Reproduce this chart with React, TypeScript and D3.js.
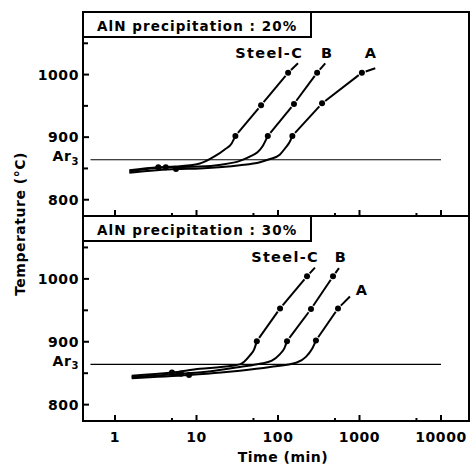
import React from "react";
import * as d3 from "d3";

type Pt = [number, number];

// x ticks (time, min) and y ticks (temperature, °C)
const xMajor = [1, 10, 100, 1000, 10000];
const xMinor = [5, 50, 500, 5000];
const yMajor = [800, 900, 1000];
const yMinor = [850, 950, 1050];
const ar3 = 864;
const steelNames = ["Steel-C", "B", "A"];

// AlN precipitation : 20%
const c20Solid: Pt[] = [[1.5, 847], [3.4, 852], [5.5, 853], [11, 858], [17, 870], [22, 880], [27, 890], [30, 902]];
const b20Solid: Pt[] = [[1.5, 845], [4.2, 852], [11, 853], [20, 856], [34, 862], [45, 869], [56, 876], [65, 886], [75, 902]];
const a20Solid: Pt[] = [[1.5, 843], [5.6, 849], [11, 850], [34, 855], [60, 860], [80, 865], [105, 872], [122, 882], [140, 893], [150, 902]];
const c20Dots: Pt[] = [[30, 902], [62, 951], [133, 1003]];
const b20Dots: Pt[] = [[75, 902], [157, 953], [302, 1003]];
const a20Dots: Pt[] = [[150, 902], [347, 954], [1070, 1003]];
const tails20: Pt[] = [[176, 1018], [380, 1018], [1560, 1010]];
const start20: Pt[] = [[3.4, 852], [4.2, 852], [5.6, 849]];
const labels20: Pt[] = [[78, 1035], [400, 1035], [1385, 1035]];

// AlN precipitation : 30%
const c30Solid: Pt[] = [[1.6, 846], [5.0, 851], [11, 857], [20, 860], [34, 864], [45, 878], [51, 888], [55, 901]];
const b30Solid: Pt[] = [[1.6, 844], [6.45, 849], [15, 853], [34, 860], [60, 865], [84, 870], [105, 880], [120, 890], [129, 901]];
const a30Solid: Pt[] = [[1.6, 842], [8.1, 847], [20, 851], [34, 854], [80, 860], [170, 867], [220, 876], [260, 888], [292, 902]];
const c30Dots: Pt[] = [[55, 901], [106, 953], [227, 1004]];
const b30Dots: Pt[] = [[129, 901], [254, 952], [473, 1004]];
const a30Dots: Pt[] = [[292, 902], [545, 953]];
const tails30: Pt[] = [[284, 1018], [560, 1017], [764, 972]];
const start30: Pt[] = [[5.0, 851], [6.45, 849], [8.1, 847]];
const labels30: Pt[] = [[122, 1035], [593, 1035], [1070, 982]];

const W = 470;
const H = 468;
const left = 83;
const right = 469;
const font = "DejaVu Sans, sans-serif";

const x = d3.scaleLog().domain([1, 10000]).range([115, 441]);

function Panel({ top, bottom, title, solids, dots, tails, starts, labels, showX }: any) {
  const y = d3.scaleLinear().domain([774, 1100]).range([bottom, top]);
  const line = d3
    .line<Pt>()
    .x((d) => x(d[0]))
    .y((d) => y(d[1]))
    .curve(d3.curveMonotoneX);
  const gap = 4;

  const dashes: any[] = [];
  dots.forEach((ds: Pt[], i: number) => {
    const pts = [...ds, tails[i]].map((d) => [x(d[0]), y(d[1])]);
    for (let k = 0; k < pts.length - 1; k++) {
      const [x1, y1] = pts[k];
      const [x2, y2] = pts[k + 1];
      const len = Math.hypot(x2 - x1, y2 - y1);
      const ux = (x2 - x1) / len;
      const uy = (y2 - y1) / len;
      const last = k === pts.length - 2;
      dashes.push(
        <line
          key={`d${i}-${k}`}
          x1={x1 + ux * gap}
          y1={y1 + uy * gap}
          x2={x2 - (last ? 0 : ux * gap)}
          y2={y2 - (last ? 0 : uy * gap)}
          stroke="#000"
          strokeWidth={2}
        />
      );
    }
  });

  return (
    <g>
      <line x1={x(0.5)} x2={x(10000)} y1={y(ar3)} y2={y(ar3)} stroke="#000" strokeWidth={1.1} />
      {solids.map((s: Pt[], i: number) => (
        <path key={`s${i}`} d={line(s) || ""} fill="none" stroke="#000" strokeWidth={2} />
      ))}
      {dashes}
      {[...dots.flat(), ...starts].map((d: Pt, i: number) => (
        <circle key={`c${i}`} cx={x(d[0])} cy={y(d[1])} r={3} fill="#000" />
      ))}
      {labels.map((d: Pt, i: number) => (
        <text key={`l${i}`} x={x(d[0])} y={y(d[1])} dy="0.36em" textAnchor="middle" fontSize={14.5} fontWeight="bold" letterSpacing={1.3} fontFamily={font}>
          {steelNames[i]}
        </text>
      ))}
      {/* frame */}
      <rect x={left} y={top} width={right - left} height={bottom - top} fill="none" stroke="#000" strokeWidth={2} />
      <rect x={left} y={top} width={311 - left} height={25} fill="#fff" stroke="#000" strokeWidth={2} />
      <text x={left + 14} y={top + 19} fontSize={13.5} fontWeight="bold" letterSpacing={1.05} fontFamily={font}>
        {title}
      </text>
      {yMajor.map((v) => (
        <g key={`ym${v}`}>
          <line x1={left} x2={left + 6} y1={y(v)} y2={y(v)} stroke="#000" strokeWidth={2} />
          <text x={79} y={y(v)} dy="0.36em" textAnchor="end" fontSize={14} fontWeight="bold" letterSpacing={0.6} fontFamily={font}>
            {v}
          </text>
        </g>
      ))}
      {yMinor.map((v) => (
        <line key={`yn${v}`} x1={left} x2={left + 5} y1={y(v)} y2={y(v)} stroke="#000" strokeWidth={2} />
      ))}
      <text x={79} y={y(ar3)} dy="0.1em" textAnchor="end" fontSize={14} fontWeight="bold" letterSpacing={0.6} fontFamily={font}>
        Ar<tspan fontSize={10} dy="0.35em">3</tspan>
      </text>
      {xMajor.map((v) => (
        <g key={`xm${v}`}>
          <line x1={x(v)} x2={x(v)} y1={bottom} y2={bottom - 6} stroke="#000" strokeWidth={2} />
          {showX && (
            <text x={x(v)} y={bottom + 21} textAnchor="middle" fontSize={14} fontWeight="bold" letterSpacing={0.6} fontFamily={font}>
              {v}
            </text>
          )}
        </g>
      ))}
      {xMinor.map((v) => (
        <line key={`xn${v}`} x1={x(v)} x2={x(v)} y1={bottom} y2={bottom - 3} stroke="#000" strokeWidth={2} />
      ))}
    </g>
  );
}

export default function App() {
  return (
    <svg width={W} height={H} style={{ position: "absolute", left: 0, top: 0, background: "#fff" }}>
      <Panel
        top={12}
        bottom={216}
        title="AlN precipitation : 20%"
        solids={[c20Solid, b20Solid, a20Solid]}
        dots={[c20Dots, b20Dots, a20Dots]}
        tails={tails20}
        starts={start20}
        labels={labels20}
        showX={false}
      />
      <Panel
        top={216}
        bottom={421}
        title="AlN precipitation : 30%"
        solids={[c30Solid, b30Solid, a30Solid]}
        dots={[c30Dots, b30Dots, a30Dots]}
        tails={tails30}
        starts={start30}
        labels={labels30}
        showX={true}
      />
      <text
        transform="translate(20,224) rotate(-90)"
        textAnchor="middle"
        dy="0.36em"
        fontSize={14}
        fontWeight="bold"
        letterSpacing={0.5}
        fontFamily={font}
      >
        Temperature (°C)
      </text>
      <text x={283} y={462} textAnchor="middle" fontSize={14} fontWeight="bold" letterSpacing={0.5} fontFamily={font}>
        Time (min)
      </text>
    </svg>
  );
}
